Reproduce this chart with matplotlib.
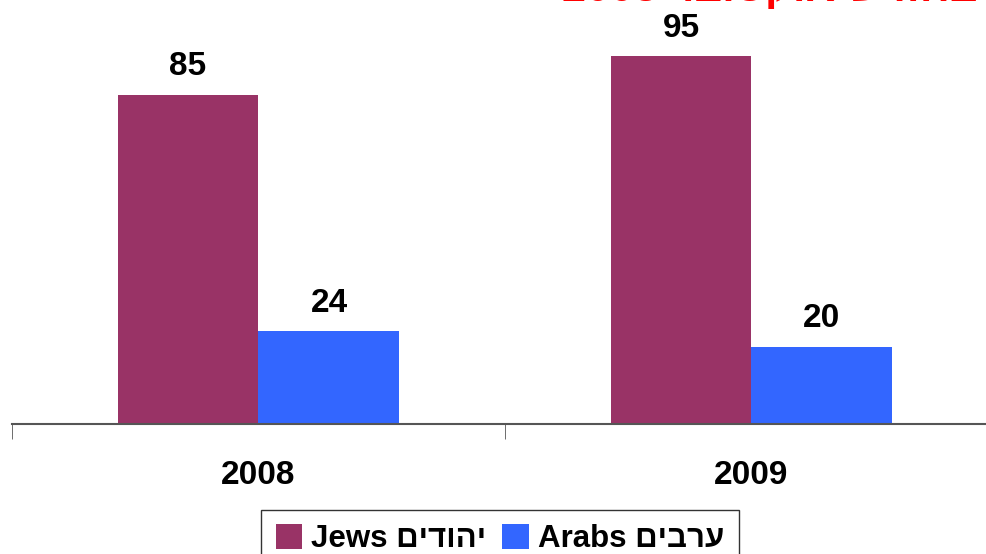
import matplotlib.pyplot as plt
import numpy as np

plt.rcParams['font.family'] = ['Liberation Sans', 'DejaVu Sans']

years = ["2008", "2009"]
jews = [85, 95]
arabs = [24, 20]
label_jews = "Jews " + "יהודים"[::-1]
label_arabs = "Arabs " + "ערבים"[::-1]
header = "■ 2008 " + "בחודש אוקטובר"[::-1] + " ■"

fig = plt.figure(figsize=(9.87, 5.54), dpi=100)
ax = fig.add_axes([12 / 987, 130 / 554, 986 / 987, 424 / 554])

x = np.arange(len(years))
w = 0.286
b1 = ax.bar(x - w / 2, jews, w, color="#993366", label=label_jews)
b2 = ax.bar(x + w / 2, arabs, w, color="#3366FF", label=label_arabs)

for bars in (b1, b2):
    for r in bars:
        ax.text(r.get_x() + r.get_width() / 2, r.get_height() + 3.2, str(int(r.get_height())),
                ha="center", va="bottom", fontsize=24, fontweight="bold")

ax.set_xlim(-0.5, 1.5)
ax.set_ylim(0, 109.5)
ax.set_xticks(x)
ax.set_xticklabels(years, fontsize=24, fontweight="bold")
ax.tick_params(axis="x", length=0, pad=26)
ax.set_xticks([-0.5, 0.5, 1.5], minor=True)
ax.tick_params(axis="x", which="minor", length=11, color="#555555")
ax.set_yticks([])
for s in ["top", "right", "left"]:
    ax.spines[s].set_visible(False)
ax.spines["bottom"].set_color("#555555")
ax.spines["bottom"].set_linewidth(1.5)

fig.legend(loc="upper center", bbox_to_anchor=(500 / 987, 1 - 510 / 554), ncol=2,
           prop={"size": 22.5, "weight": "bold"}, frameon=True, fancybox=False,
           edgecolor="black", handlelength=0.85, handleheight=0.85, handletextpad=0.3,
           columnspacing=0.5, borderpad=0.45, borderaxespad=0)

fig.text(770 / 987, 1 - 10 / 554, header, color="red", fontsize=31, fontweight="bold",
         ha="center", va="bottom")

fig.savefig("out.png", dpi=100)
